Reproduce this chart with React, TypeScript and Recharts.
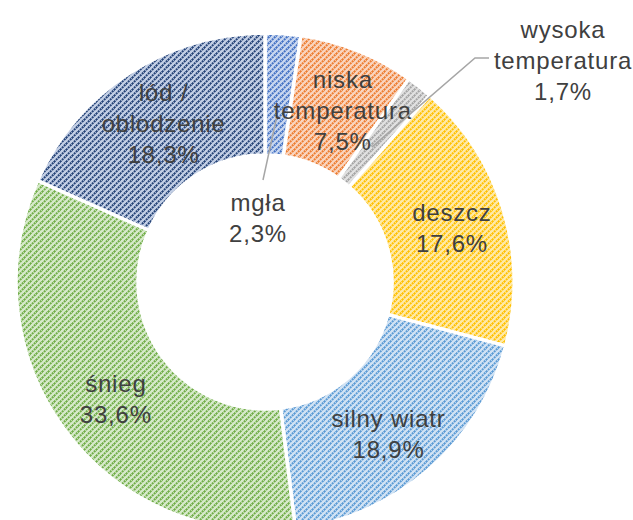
import React from "react";
import { PieChart, Pie, Cell } from "recharts";

// causes of weather-related incidents, share in %
const NAMES = [
  "mgła",
  "niska temperatura",
  "wysoka temperatura",
  "deszcz",
  "silny wiatr",
  "śnieg",
  "lód / oblodzenie",
];
const VALUES = [2.3, 7.5, 1.7, 17.6, 18.9, 33.6, 18.3];
const LABEL_LINES = [
  ["mgła"],
  ["niska", "temperatura"],
  ["wysoka", "temperatura"],
  ["deszcz"],
  ["silny wiatr"],
  ["śnieg"],
  ["lód /", "oblodzenie"],
];

const FG = ["#4472C4", "#ED7D31", "#A5A5A5", "#FFC000", "#5B9BD5", "#70AD47", "#264478"];
const BG = ["#c9d7f0", "#fad5bf", "#e1e1e1", "#ffeaa8", "#d2e3f4", "#d7eacb", "#c4d0e6"];

const data = NAMES.map((name, i) => ({ name, value: VALUES[i] }));

const RAD = Math.PI / 180;
const LINE_H = 31;

// nudges so the labels sit where the original chart put them
const NUDGE: [number, number][] = [
  [0, 0],
  [8, 3],
  [0, 0],
  [7, 0],
  [0, 10],
  [2, 5],
  [1, -1],
];

const fmt = (v: number) => v.toFixed(1).replace(".", ",") + "%";

const textStyle = {
  fontFamily: "'Liberation Sans', Arial, sans-serif",
  fontSize: 24,
  fill: "#404040",
  letterSpacing: 0.8,
};

const renderLabel = (props: any) => {
  const { cx, cy, midAngle, innerRadius, outerRadius, index } = props;
  const lines = [...LABEL_LINES[index], fmt(VALUES[index])];
  const pt = (r: number) => ({
    x: cx + r * Math.cos(-midAngle * RAD),
    y: cy + r * Math.sin(-midAngle * RAD),
  });

  let x: number;
  let y: number;
  let leader: React.ReactNode = null;

  if (index === 0) {
    // small slice: label inside the hole
    const s = pt(innerRadius + 40);
    x = cx - 7;
    y = cy - 65;
    leader = (
      <polyline
        points={`${s.x},${s.y} ${cx - 2},${cy - 102}`}
        stroke="#a6a6a6"
        strokeWidth={1.5}
        fill="none"
      />
    );
  } else if (index === 2) {
    // small slice: label outside, top right
    const s = pt(innerRadius + 45);
    x = cx + 298;
    y = cy - 222;
    leader = (
      <polyline
        points={`${s.x},${s.y} ${cx + 210},${cy - 224} ${cx + 224},${cy - 224}`}
        stroke="#a6a6a6"
        strokeWidth={1.5}
        fill="none"
      />
    );
  } else {
    const p = pt((innerRadius + outerRadius) / 2);
    x = p.x + NUDGE[index][0];
    y = p.y + NUDGE[index][1];
  }

  const top = y - ((lines.length - 1) * LINE_H) / 2;
  return (
    <g key={`label-${index}`}>
      {leader}
      <text
        x={x}
        y={top}
        textAnchor="middle"
        dominantBaseline="central"
        style={textStyle}
      >
        {lines.map((l, i) => (
          <tspan key={i} x={x} y={top + i * LINE_H}>
            {l}
          </tspan>
        ))}
      </text>
    </g>
  );
};

const Patterns = () => (
  <svg width={0} height={0} style={{ position: "absolute" }}>
    <defs>
      {FG.map((c, i) => (
        <pattern
          key={i}
          id={`hatch-${i}`}
          patternUnits="userSpaceOnUse"
          width={6}
          height={6}
        >
          <rect width={6} height={6} fill={BG[i]} />
          <path
            d="M-1,1 L1,-1 M0,6 L6,0 M5,7 L7,5"
            stroke={c}
            strokeWidth={2}
            strokeDasharray="2 0.8"
          />
        </pattern>
      ))}
    </defs>
  </svg>
);

export default function App() {
  return (
    <div style={{ position: "absolute", left: 0, top: 0, width: 633, height: 520, background: "#fff" }}>
      <Patterns />
      <PieChart width={633} height={520}>
        <Pie
          data={data}
          dataKey="value"
          nameKey="name"
          cx={260}
          cy={277}
          innerRadius={127}
          outerRadius={249}
          startAngle={90}
          endAngle={-270}
          stroke="#ffffff"
          strokeWidth={3.5}
          label={renderLabel}
          labelLine={false}
          isAnimationActive={false}
        >
          {data.map((entry, index) => (
            <Cell key={`cell-${index}`} fill={`url(#hatch-${index})`} />
          ))}
        </Pie>
      </PieChart>
    </div>
  );
}
